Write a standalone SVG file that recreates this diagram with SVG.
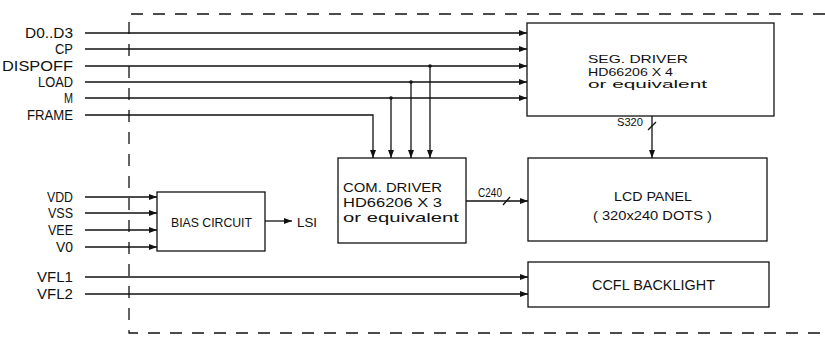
<svg xmlns="http://www.w3.org/2000/svg" width="825" height="338" viewBox="0 0 825 338">
<style>
.ln{stroke:#111;stroke-width:1.3;fill:none}
.ar{stroke:#111;stroke-width:1.3;fill:none;marker-end:url(#ah)}
.box{stroke:#111;stroke-width:1.3;fill:#fff}
.dash{stroke:#111;stroke-width:1.3;fill:none;stroke-dasharray:12 10}
text{font-family:"Liberation Sans","DejaVu Sans",sans-serif;fill:#111}
.lbl{font-size:14px;text-anchor:end}
.seg{font-size:11.5px}
.com{font-size:13px}
</style>
<defs>
<marker id="ah" markerUnits="userSpaceOnUse" markerWidth="8" markerHeight="6" refX="8" refY="3" orient="auto">
<path d="M0,0 L8,3 L0,6 z" fill="#111"/>
</marker>
</defs>
<rect width="825" height="338" fill="#fff"/>
<g id="border">
<path class="dash" d="M825,14 H129 V333 H825"/>
</g>
<g id="inputs">
<text class="lbl" x="73" y="38" textLength="48" lengthAdjust="spacingAndGlyphs">D0..D3</text>
<text class="lbl" x="73" y="54" textLength="18" lengthAdjust="spacingAndGlyphs">CP</text>
<text class="lbl" x="73" y="71" textLength="71" lengthAdjust="spacingAndGlyphs">DISPOFF</text>
<text class="lbl" x="73" y="87" textLength="35" lengthAdjust="spacingAndGlyphs">LOAD</text>
<text class="lbl" x="73" y="103" textLength="9" lengthAdjust="spacingAndGlyphs">M</text>
<text class="lbl" x="73" y="120" textLength="46" lengthAdjust="spacingAndGlyphs">FRAME</text>
<text class="lbl" x="73" y="202" textLength="26" lengthAdjust="spacingAndGlyphs">VDD</text>
<text class="lbl" x="73" y="218" textLength="25" lengthAdjust="spacingAndGlyphs">VSS</text>
<text class="lbl" x="73" y="235" textLength="25" lengthAdjust="spacingAndGlyphs">VEE</text>
<text class="lbl" x="73" y="252" textLength="17" lengthAdjust="spacingAndGlyphs">V0</text>
<text class="lbl" x="73" y="282" textLength="36" lengthAdjust="spacingAndGlyphs">VFL1</text>
<text class="lbl" x="73" y="299" textLength="36" lengthAdjust="spacingAndGlyphs">VFL2</text>
</g>
<g id="connectors">
<path class="ar" d="M85,33 H527"/>
<path class="ar" d="M85,49 H527"/>
<path class="ar" d="M85,66 H527"/>
<path class="ar" d="M85,82 H527"/>
<path class="ar" d="M85,98 H527"/>
<path class="ar" d="M85,115 H373 V158"/>
<path class="ar" d="M391,98 V158"/>
<path class="ar" d="M411,82 V158"/>
<path class="ar" d="M430,66 V158"/>
<circle cx="391" cy="98" r="1.8" fill="#111"/>
<circle cx="411" cy="82" r="1.8" fill="#111"/>
<circle cx="430" cy="66" r="1.8" fill="#111"/>
<path class="ar" d="M466,201 H528"/>
<path class="ln" d="M503,205 L510,197"/>
<text x="478" y="197" font-size="13" textLength="24" lengthAdjust="spacingAndGlyphs">C240</text>
<path class="ar" d="M652,116 V158"/>
<path class="ln" d="M648,130 L656,122"/>
<text x="617" y="126" font-size="11" textLength="26" lengthAdjust="spacingAndGlyphs">S320</text>
<path class="ar" d="M85,197 H157"/>
<path class="ar" d="M85,213 H157"/>
<path class="ar" d="M85,230 H157"/>
<path class="ar" d="M85,247 H157"/>
<path class="ar" d="M265,221 H292"/>
<text x="297" y="227" font-size="13" textLength="20" lengthAdjust="spacingAndGlyphs">LSI</text>
<path class="ar" d="M85,277 H528"/>
<path class="ar" d="M85,294 H528"/>
</g>
<g id="seg-driver">
<rect class="box" x="527" y="23" width="247" height="93"/>
<text class="seg" x="588" y="63" textLength="100" lengthAdjust="spacingAndGlyphs">SEG. DRIVER</text>
<text class="seg" x="588" y="76" textLength="85" lengthAdjust="spacingAndGlyphs">HD66206 X 4</text>
<text class="seg" x="588" y="88" textLength="119" lengthAdjust="spacingAndGlyphs">or equivalent</text>
</g>
<g id="com-driver">
<rect class="box" x="338" y="158" width="128" height="85"/>
<text class="com" x="343" y="192" textLength="99" lengthAdjust="spacingAndGlyphs">COM. DRIVER</text>
<text class="com" x="343" y="207" textLength="99" lengthAdjust="spacingAndGlyphs">HD66206 X 3</text>
<text class="com" x="343" y="222" textLength="116" lengthAdjust="spacingAndGlyphs">or equivalent</text>
</g>
<g id="lcd-panel">
<rect class="box" x="528" y="158" width="239" height="83"/>
<text x="614" y="201" font-size="13" textLength="78" lengthAdjust="spacingAndGlyphs">LCD PANEL</text>
<text x="593" y="220" font-size="13" textLength="119" lengthAdjust="spacingAndGlyphs">( 320x240 DOTS )</text>
</g>
<g id="ccfl">
<rect class="box" x="528" y="262" width="241" height="45"/>
<text x="592" y="290" font-size="15" textLength="123" lengthAdjust="spacingAndGlyphs">CCFL BACKLIGHT</text>
</g>
<g id="bias">
<rect class="box" x="157" y="192" width="108" height="59"/>
<text x="171" y="227" font-size="13" textLength="81" lengthAdjust="spacingAndGlyphs">BIAS CIRCUIT</text>
</g>
</svg>
